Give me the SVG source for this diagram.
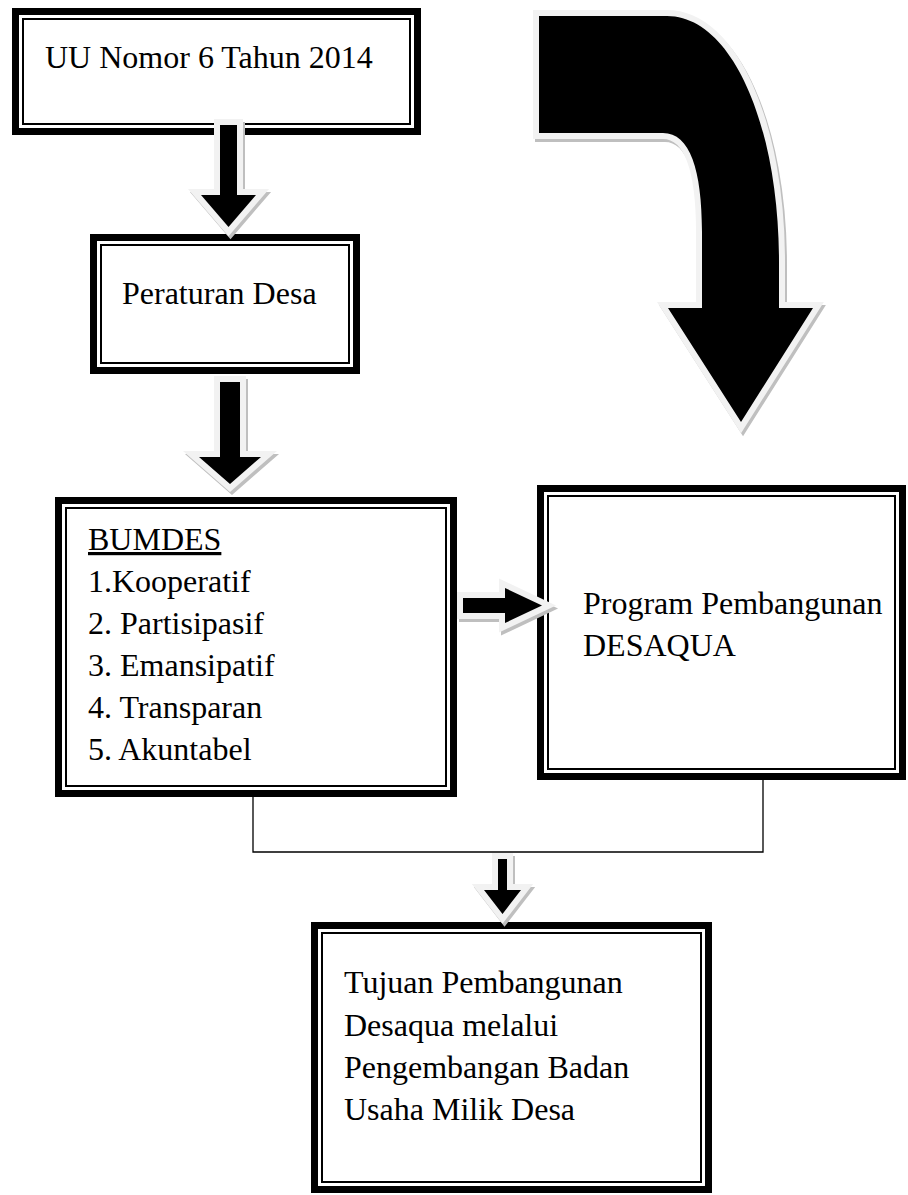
<svg xmlns="http://www.w3.org/2000/svg" xmlns:xlink="http://www.w3.org/1999/xlink" width="908" height="1195" viewBox="0 0 908 1195">
<style>
  .outer { fill: #ffffff; stroke: #000000; stroke-width: 7; }
  .inner { fill: none; stroke: #000000; stroke-width: 2; }
  .txt { font-family: "Liberation Serif", "Times New Roman", serif; font-size: 32px; fill: #000000; }
  .shadow { fill: #bfbfbf; stroke: #bfbfbf; stroke-width: 12; stroke-linejoin: miter; stroke-miterlimit: 10; }
  .halo { fill: #f2f2f2; stroke: #f2f2f2; stroke-width: 12; stroke-linejoin: miter; stroke-miterlimit: 10; }
  .core { fill: #000000; stroke: none; }
  .line { fill: none; stroke: #000000; stroke-width: 1.3; }
</style>
<defs>
  <path id="a1" d="M220,125 L237,125 L237,195 L256,195 L228.5,227 L201,195 L220,195 Z"/>
  <path id="a2" d="M220,382 L240,382 L240,457 L261,457 L230,484 L199,457 L220,457 Z"/>
  <path id="a3" d="M463,598 L505,598 L505,588 L542,605.5 L505,623 L505,613 L463,613 Z"/>
  <path id="a4" d="M498,859 L507,859 L507,890 L521,890 L502.5,914 L484,890 L498,890 Z"/>
  <path id="big" d="M539,16 L667,16 C732,16 779,125 779,262 L779,308 L813,308 L741,422 L668,308 L702,308 L702,232 C702,170 690,133 663,133 L539,133 Z"/>
</defs>
<rect width="908" height="1195" fill="#ffffff"/>

<g id="node-uu">
  <rect class="outer" x="15.5" y="11.5" width="402" height="120"/>
  <rect class="inner" x="23" y="19" width="387" height="105"/>
  <text class="txt" x="45" y="68">UU Nomor 6 Tahun 2014</text>
</g>

<g id="node-perdes">
  <rect class="outer" x="93.5" y="237.5" width="263" height="133"/>
  <rect class="inner" x="101" y="245" width="248" height="118"/>
  <text class="txt" x="122" y="304">Peraturan Desa</text>
</g>

<g id="node-bumdes">
  <rect class="outer" x="58.5" y="500.5" width="395" height="293"/>
  <rect class="inner" x="66" y="508" width="380" height="278"/>
  <text class="txt" x="88" y="550" text-decoration="underline">BUMDES</text>
  <text class="txt" x="88" y="592">1.Kooperatif</text>
  <text class="txt" x="88" y="634">2. Partisipasif</text>
  <text class="txt" x="88" y="676">3. Emansipatif</text>
  <text class="txt" x="88" y="718">4. Transparan</text>
  <text class="txt" x="88" y="760">5. Akuntabel</text>
</g>

<g id="node-program">
  <rect class="outer" x="540.5" y="488.5" width="362" height="288"/>
  <rect class="inner" x="548" y="496" width="347" height="273"/>
  <text class="txt" x="583" y="614">Program Pembangunan</text>
  <text class="txt" x="583" y="656">DESAQUA</text>
</g>

<g id="node-tujuan">
  <rect class="outer" x="314.5" y="925.5" width="394" height="264"/>
  <rect class="inner" x="322" y="933" width="379" height="249"/>
  <text class="txt" x="344" y="993">Tujuan Pembangunan</text>
  <text class="txt" x="344" y="1036">Desaqua melalui</text>
  <text class="txt" x="344" y="1078">Pengembangan Badan</text>
  <text class="txt" x="344" y="1120">Usaha Milik Desa</text>
</g>

<g id="connectors">
  <polyline class="line" points="253,797 253,852 763,852 763,780"/>
  <g id="arrow-uu-perdes">
    <use xlink:href="#a1" class="shadow" transform="translate(2,3)"/>
    <use xlink:href="#a1" class="halo"/>
    <use xlink:href="#a1" class="core"/>
  </g>
  <g id="arrow-perdes-bumdes">
    <use xlink:href="#a2" class="shadow" transform="translate(2,3)"/>
    <use xlink:href="#a2" class="halo"/>
    <use xlink:href="#a2" class="core"/>
  </g>
  <g id="arrow-bumdes-program">
    <use xlink:href="#a3" class="shadow" transform="translate(2,3)"/>
    <use xlink:href="#a3" class="halo"/>
    <use xlink:href="#a3" class="core"/>
  </g>
  <g id="arrow-to-tujuan">
    <use xlink:href="#a4" class="shadow" transform="translate(2,3)"/>
    <use xlink:href="#a4" class="halo"/>
    <use xlink:href="#a4" class="core"/>
  </g>
  <g id="arrow-curved">
    <use xlink:href="#big" class="shadow" transform="translate(2,3)"/>
    <use xlink:href="#big" class="halo"/>
    <use xlink:href="#big" class="core"/>
  </g>
</g>
</svg>
